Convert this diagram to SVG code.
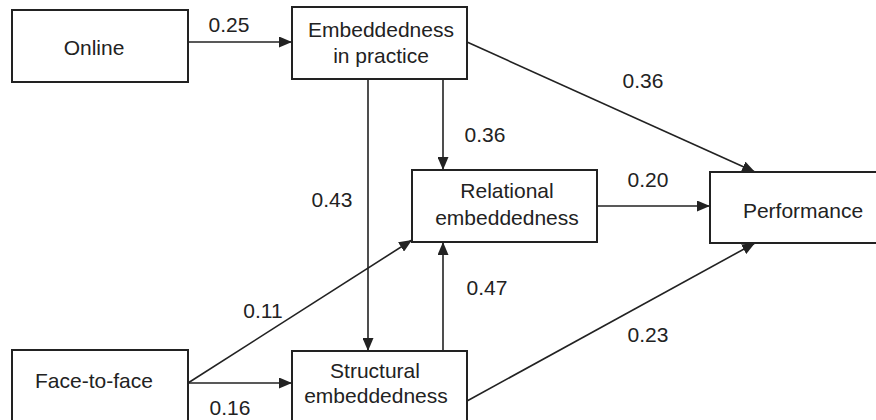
<svg xmlns="http://www.w3.org/2000/svg" width="876" height="420" viewBox="0 0 876 420">
<style>
.box{fill:#fff;stroke:#222;stroke-width:2}
.t{font-family:"Liberation Sans",Arial,sans-serif;font-size:21px;fill:#222;text-anchor:middle}
.c{stroke:#222;stroke-width:1.6;fill:none;marker-end:url(#ah)}
</style>
<defs>
<marker id="ah" markerUnits="userSpaceOnUse" markerWidth="13" markerHeight="11" viewBox="0 0 13 11" refX="13" refY="5.5" orient="auto">
<path d="M0,0 L13,5.5 L0,11 z" fill="#222"/>
</marker>
</defs>
<g id="connectors">
<line class="c" x1="188" y1="42" x2="292" y2="42"/>
<line class="c" x1="443" y1="79" x2="443" y2="170"/>
<line class="c" x1="368" y1="79" x2="368" y2="351"/>
<line class="c" x1="467" y1="42" x2="755" y2="172"/>
<line class="c" x1="597" y1="206" x2="710" y2="206"/>
<line class="c" x1="443" y1="351" x2="443" y2="242"/>
<line class="c" x1="188" y1="383" x2="412" y2="240"/>
<line class="c" x1="188" y1="383" x2="292" y2="383"/>
<line class="c" x1="467" y1="401" x2="755" y2="243"/>
</g>
<g id="labels">
<text class="t" x="229" y="32">0.25</text>
<text class="t" x="643" y="88">0.36</text>
<text class="t" x="485" y="142">0.36</text>
<text class="t" x="648" y="187">0.20</text>
<text class="t" x="332" y="207">0.43</text>
<text class="t" x="263" y="318">0.11</text>
<text class="t" x="487" y="295">0.47</text>
<text class="t" x="648" y="342">0.23</text>
<text class="t" x="230" y="415">0.16</text>
</g>
<g id="online">
<rect class="box" x="12" y="10" width="176" height="72"/>
<text class="t" x="94" y="55">Online</text>
</g>
<g id="practice">
<rect class="box" x="292" y="7" width="175" height="72"/>
<text class="t" x="381" y="37">Embeddedness</text>
<text class="t" x="381" y="63">in practice</text>
</g>
<g id="relational">
<rect class="box" x="412" y="170" width="185" height="72"/>
<text class="t" x="507" y="198">Relational</text>
<text class="t" x="507" y="225">embeddedness</text>
</g>
<g id="performance">
<rect class="box" x="710" y="172" width="180" height="71"/>
<text class="t" x="803" y="218">Performance</text>
</g>
<g id="facetoface">
<rect class="box" x="12" y="350" width="176" height="80"/>
<text class="t" x="94" y="388">Face-to-face</text>
</g>
<g id="structural">
<rect class="box" x="292" y="351" width="175" height="80"/>
<text class="t" x="375" y="378">Structural</text>
<text class="t" x="376" y="403">embeddedness</text>
</g>
</svg>
